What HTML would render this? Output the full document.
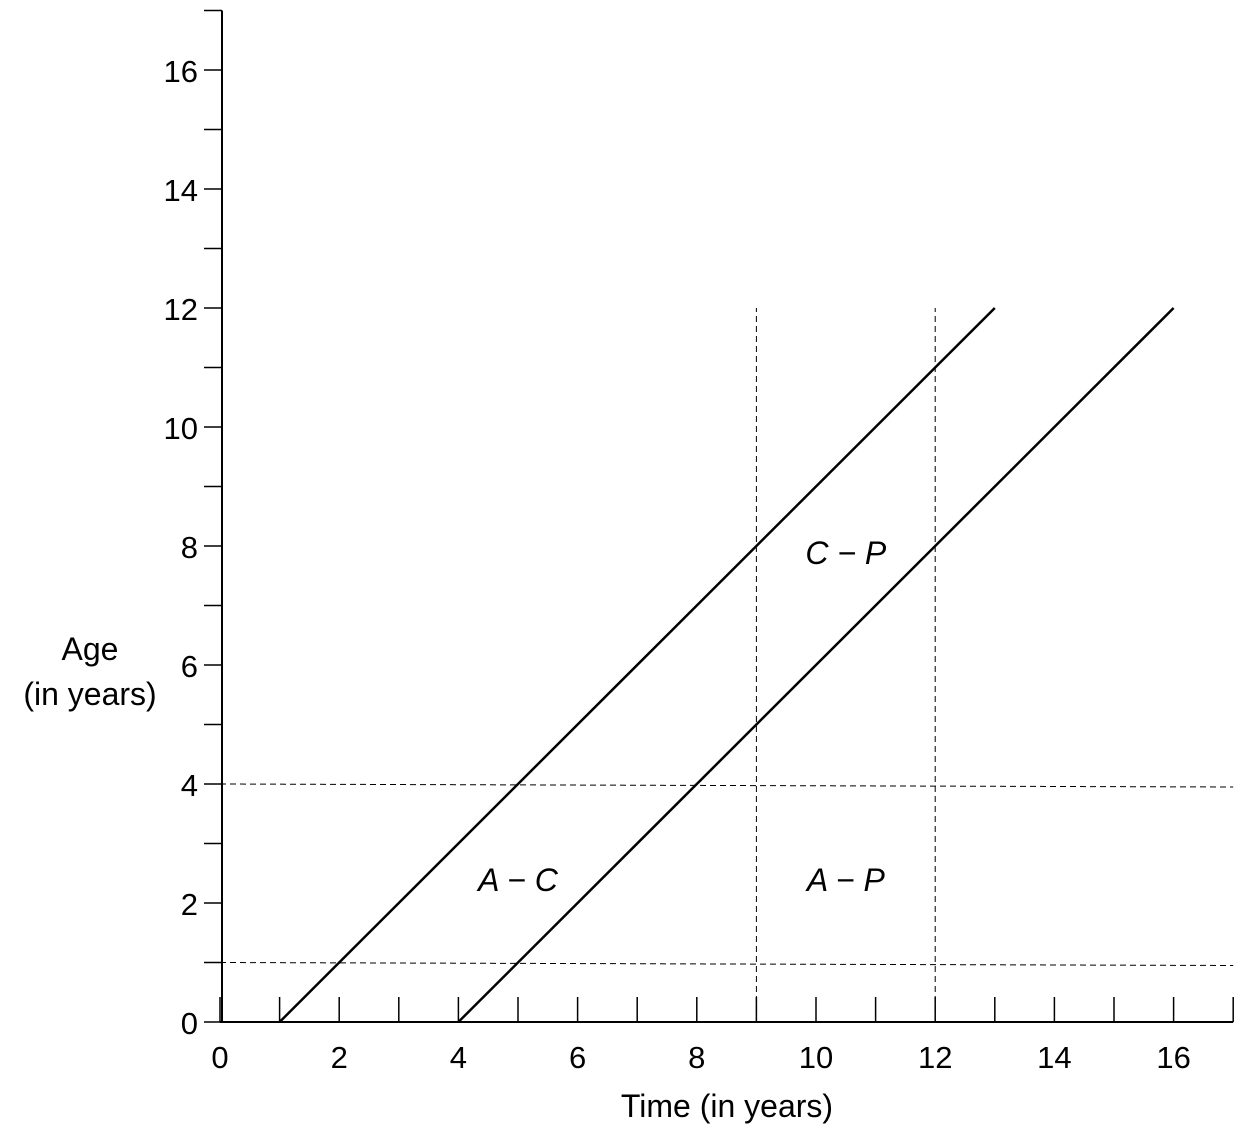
<!DOCTYPE html>
<html><head><meta charset="utf-8"><style>
body{margin:0;background:#fff}
svg{display:block;font-family:"Liberation Sans",sans-serif}
</style></head><body>
<svg id="chart" width="1252" height="1136" viewBox="0 0 1252 1136" xmlns="http://www.w3.org/2000/svg">
<g id="g"></g>
</svg>
<script>
const xTicks=[0,1,2,3,4,5,6,7,8,9,10,11,12,13,14,15,16,17];
const xLabels=[0,2,4,6,8,10,12,14,16];
const yTicks=[0,1,2,3,4,5,6,7,8,9,10,11,12,13,14,15,16];
const yLabels=[0,2,4,6,8,10,12,14,16];
const cohortStarts=[1,4];
const cohortLength=[12,12];
const periodLines=[9,12];
const ageLines=[1,4];
const regionLabels=["A − C","A − P","C − P"];
const regionX=[5,10.5,10.5];
const regionY=[2.2,2.2,7.7];

const X=v=>220+v*59.6, Y=v=>1022-v*59.5;
const g=document.getElementById('g');
const NS='http://www.w3.org/2000/svg';
function mk(t,a,txt){const e=document.createElementNS(NS,t);for(const k in a)e.setAttribute(k,a[k]);if(txt!==undefined)e.textContent=txt;g.appendChild(e);return e;}

let e;
e=mk('line',{x1:X(0),y1:Y(0),x2:X(17),y2:Y(0),stroke:'#000','stroke-width':2});


e=mk('line',{x1:222,y1:Y(0),x2:222,y2:Y(17),stroke:'#000','stroke-width':2});


xTicks.forEach(v=>{const t=mk('line',{x1:X(v),y1:Y(0),x2:X(v),y2:Y(0)-25,stroke:'#000','stroke-width':1.5});

});
yTicks.concat([17]).forEach(v=>{const t=mk('line',{x1:204,y1:Y(v),x2:222,y2:Y(v),stroke:'#000','stroke-width':1.5});

});
xLabels.forEach(v=>{const t=mk('text',{x:X(v),y:1068,'font-size':31,'text-anchor':'middle'},v);

});
yLabels.forEach(v=>{const t=mk('text',{x:198,y:Y(v)+12,'font-size':31,'text-anchor':'end'},v);

});
periodLines.forEach(v=>{const t=mk('line',{x1:X(v),y1:Y(0),x2:X(v),y2:Y(12),stroke:'#000','stroke-width':1,'stroke-dasharray':'6,4'});

});
ageLines.forEach(v=>{const t=mk('line',{x1:X(0),y1:Y(v),x2:X(17),y2:Y(v)+3,stroke:'#000','stroke-width':1,'stroke-dasharray':'6,4'});

});
cohortStarts.forEach((s,i)=>{const t=mk('line',{x1:X(s),y1:Y(0),x2:X(s+cohortLength[i]),y2:Y(cohortLength[i]),stroke:'#000','stroke-width':2.5});

});
regionLabels.forEach((l,i)=>{const t=mk('text',{x:X(regionX[i]),y:Y(regionY[i]),'font-size':32,'font-style':'italic','text-anchor':'middle'},l);

});
e=mk('text',{x:727,y:1117,'font-size':32,'text-anchor':'middle'},'Time (in years)');


e=mk('text',{x:90,y:660,'font-size':32,'text-anchor':'middle'},'Age');


e=mk('text',{x:90,y:705,'font-size':32,'text-anchor':'middle'},'(in years)');


</script>
</body></html>
